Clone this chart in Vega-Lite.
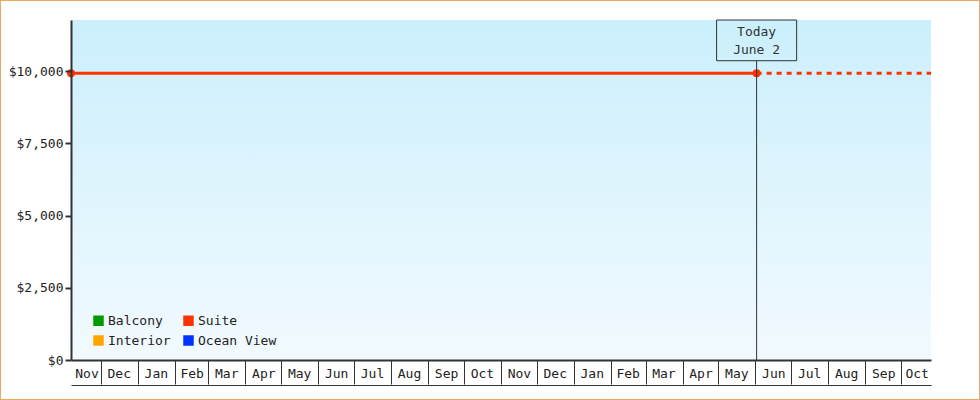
{
  "$schema": "https://vega.github.io/schema/vega-lite/v6.json",
  "width": 980,
  "height": 400,
  "autosize": {"type": "none"},
  "padding": 0,
  "background": "white",
  "config": {
    "view": {"stroke": "#e9a866", "strokeWidth": 2},
    "font": "DejaVu Sans Mono",
    "axis": {
      "labelFont": "DejaVu Sans Mono",
      "labelFontSize": 13,
      "labelColor": "#222",
      "grid": false,
      "domainColor": "#333",
      "tickColor": "#333",
      "zindex": 1
    }
  },
  "datasets": {
    "prices": [
      {"date": "2022-11-06T00:00:00", "cabin": "Suite", "price": 9925, "kind": "actual"},
      {"date": "2024-06-02T00:00:00", "cabin": "Suite", "price": 9925, "kind": "actual"},
      {"date": "2024-06-02T00:00:00", "cabin": "Suite", "price": 9925, "kind": "projected"},
      {"date": "2024-10-26T00:00:00", "cabin": "Suite", "price": 9925, "kind": "projected"}
    ],
    "today": [
      {"label": "Today", "day": "June 2"}
    ]
  },
  "resolve": {"axis": {"x": "independent"}},
  "layer": [
    {
      "data": {"name": "today"},
      "mark": {
        "type": "rect",
        "fill": {
          "gradient": "linear",
          "x1": 0, "y1": 0, "x2": 0, "y2": 1,
          "stops": [
            {"offset": 0, "color": "#cbeffc"},
            {"offset": 1, "color": "#f2faff"}
          ]
        }
      },
      "encoding": {
        "x": {
          "datum": {"year": 2022, "month": 11, "date": 6},
          "type": "temporal",
          "scale": {
            "domain": [{"year": 2022, "month": 11, "date": 6}, {"year": 2024, "month": 10, "date": 26}],
            "range": [71, 931]
          },
          "axis": {
            "title": null,
            "orient": "bottom",
            "offset": -40,
            "labels": false,
            "tickSize": 24,
            "tickWidth": 1,
            "domainWidth": 2,
            "zindex": 1,
            "values": [
              {"year": 2022, "month": 12, "date": 1},
              {"year": 2023, "month": 1, "date": 1},
              {"year": 2023, "month": 2, "date": 1},
              {"year": 2023, "month": 3, "date": 1},
              {"year": 2023, "month": 4, "date": 1},
              {"year": 2023, "month": 5, "date": 1},
              {"year": 2023, "month": 6, "date": 1},
              {"year": 2023, "month": 7, "date": 1},
              {"year": 2023, "month": 8, "date": 1},
              {"year": 2023, "month": 9, "date": 1},
              {"year": 2023, "month": 10, "date": 1},
              {"year": 2023, "month": 11, "date": 1},
              {"year": 2023, "month": 12, "date": 1},
              {"year": 2024, "month": 1, "date": 1},
              {"year": 2024, "month": 2, "date": 1},
              {"year": 2024, "month": 3, "date": 1},
              {"year": 2024, "month": 4, "date": 1},
              {"year": 2024, "month": 5, "date": 1},
              {"year": 2024, "month": 6, "date": 1},
              {"year": 2024, "month": 7, "date": 1},
              {"year": 2024, "month": 8, "date": 1},
              {"year": 2024, "month": 9, "date": 1},
              {"year": 2024, "month": 10, "date": 1}
            ]
          }
        },
        "x2": {"datum": {"year": 2024, "month": 10, "date": 26}},
        "y": {
          "datum": 0,
          "type": "quantitative",
          "scale": {"domain": [0, 11765], "range": [360, 20], "nice": false, "zero": true},
          "axis": {
            "title": null,
            "orient": "left",
            "offset": -71,
            "values": [0, 2500, 5000, 7500, 10000],
            "format": "$,.0f",
            "tickSize": 6,
            "tickWidth": 2,
            "domainWidth": 2,
            "labelPadding": 2,
            "zindex": 1
          }
        },
        "y2": {"datum": 11765}
      }
    },
    {
      "data": {"name": "prices"},
      "transform": [{"filter": "datum.kind === 'actual'"}],
      "mark": {"type": "line", "strokeWidth": 3},
      "encoding": {
        "x": {
          "field": "date",
          "type": "temporal",
          "axis": {
            "title": null,
            "orient": "bottom",
            "offset": -15,
            "ticks": false,
            "tickSize": 0,
            "domainWidth": 1,
            "labelPadding": -12,
            "labelBaseline": "middle",
            "labelAlign": "center",
            "labelOverlap": false,
            "labelBound": false,
            "labelFlush": false,
            "zindex": 1,
            "format": "%b",
            "values": [
              {"year": 2022, "month": 11, "date": 19},
              {"year": 2022, "month": 12, "date": 16},
              {"year": 2023, "month": 1, "date": 16},
              {"year": 2023, "month": 2, "date": 15},
              {"year": 2023, "month": 3, "date": 16},
              {"year": 2023, "month": 4, "date": 16},
              {"year": 2023, "month": 5, "date": 16},
              {"year": 2023, "month": 6, "date": 16},
              {"year": 2023, "month": 7, "date": 16},
              {"year": 2023, "month": 8, "date": 16},
              {"year": 2023, "month": 9, "date": 16},
              {"year": 2023, "month": 10, "date": 16},
              {"year": 2023, "month": 11, "date": 16},
              {"year": 2023, "month": 12, "date": 16},
              {"year": 2024, "month": 1, "date": 16},
              {"year": 2024, "month": 2, "date": 15},
              {"year": 2024, "month": 3, "date": 16},
              {"year": 2024, "month": 4, "date": 16},
              {"year": 2024, "month": 5, "date": 16},
              {"year": 2024, "month": 6, "date": 16},
              {"year": 2024, "month": 7, "date": 16},
              {"year": 2024, "month": 8, "date": 16},
              {"year": 2024, "month": 9, "date": 16},
              {"year": 2024, "month": 10, "date": 14}
            ]
          }
        },
        "y": {"field": "price", "type": "quantitative"},
        "color": {
          "field": "cabin",
          "type": "nominal",
          "scale": {
            "domain": ["Balcony", "Interior", "Suite", "Ocean View"],
            "range": ["#009900", "#ffa500", "#ff3300", "#0033ff"]
          },
          "legend": {
            "title": null,
            "orient": "none",
            "legendX": 92,
            "legendY": 314,
            "columns": 2,
            "columnPadding": 11,
            "rowPadding": 6,
            "padding": 0,
            "symbolType": "square",
            "symbolSize": 110,
            "symbolStrokeWidth": 0,
            "labelFont": "DejaVu Sans Mono",
            "labelFontSize": 13,
            "labelColor": "#222",
            "labelOffset": 3,
            "encode": {
              "symbols": {
                "update": {
                  "fill": {"scale": "color", "field": "value"},
                  "stroke": {"value": "transparent"},
                  "opacity": {"value": 1}
                }
              }
            }
          }
        }
      }
    },
    {
      "data": {"name": "prices"},
      "transform": [{"filter": "datum.kind === 'projected'"}],
      "mark": {"type": "line", "strokeWidth": 3, "strokeDash": [5, 5]},
      "encoding": {
        "x": {"field": "date", "type": "temporal", "axis": null},
        "y": {"field": "price", "type": "quantitative"},
        "color": {"field": "cabin", "type": "nominal", "legend": null}
      }
    },
    {
      "data": {"name": "prices"},
      "transform": [{"filter": "datum.kind === 'actual'"}],
      "mark": {"type": "point", "filled": true, "opacity": 1, "size": 64},
      "encoding": {
        "x": {"field": "date", "type": "temporal", "axis": null},
        "y": {"field": "price", "type": "quantitative"},
        "color": {"field": "cabin", "type": "nominal", "legend": null}
      }
    },
    {
      "data": {"name": "today"},
      "mark": {"type": "rule", "color": "#333", "strokeWidth": 1},
      "encoding": {
        "x": {"datum": {"year": 2024, "month": 6, "date": 2}, "type": "temporal", "axis": null},
        "y": {"datum": 0, "type": "quantitative"},
        "y2": {"datum": 10356}
      }
    },
    {
      "data": {"name": "today"},
      "mark": {"type": "rect", "filled": false, "stroke": "#333", "strokeWidth": 1},
      "encoding": {
        "x": {"datum": {"year": 2024, "month": 4, "date": 29, "hours": 12}, "type": "temporal", "axis": null},
        "x2": {"datum": {"year": 2024, "month": 7, "date": 5, "hours": 12}},
        "y": {"datum": 10356, "type": "quantitative"},
        "y2": {"datum": 11765}
      }
    },
    {
      "data": {"name": "today"},
      "transform": [{"calculate": "[datum.label, datum.day]", "as": "lines"}],
      "mark": {
        "type": "text",
        "font": "DejaVu Sans Mono",
        "fontSize": 13,
        "fontWeight": "normal",
        "lineHeight": 18,
        "align": "center",
        "baseline": "middle",
        "color": "#333"
      },
      "encoding": {
        "x": {"datum": {"year": 2024, "month": 6, "date": 2}, "type": "temporal", "axis": null},
        "y": {"datum": 11350, "type": "quantitative"},
        "text": {"field": "lines"}
      }
    }
  ]
}
